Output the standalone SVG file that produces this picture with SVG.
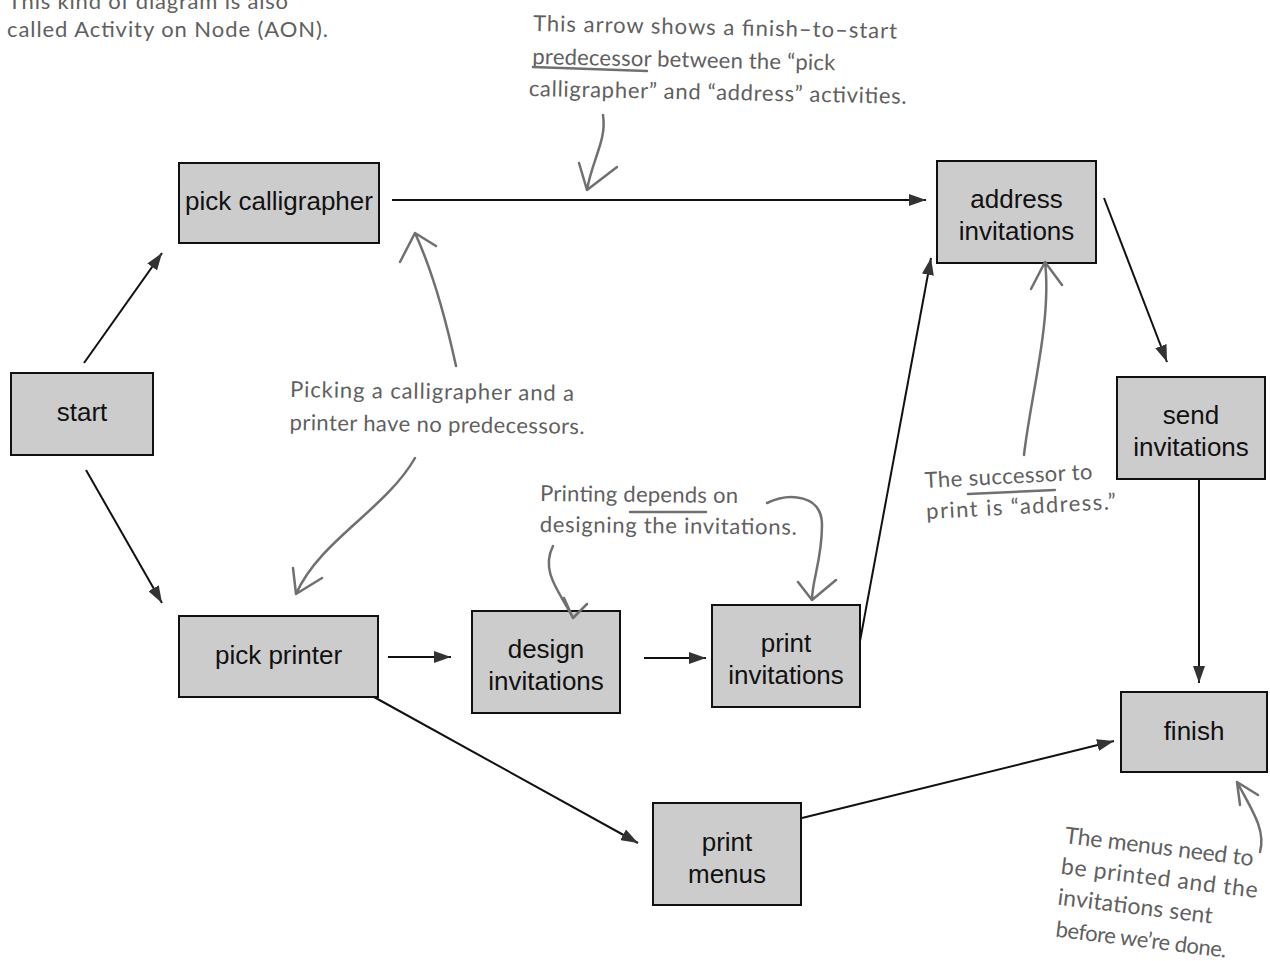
<svg xmlns="http://www.w3.org/2000/svg" width="1270" height="961" viewBox="0 0 1270 961">
<defs>
<style>
.box{fill:#cccccc;stroke:#111;stroke-width:2}
.lbl{font-family:"Liberation Sans",Arial,sans-serif;font-size:26px;fill:#111;text-anchor:middle}
.con{stroke:#111;stroke-width:2;fill:none;marker-end:url(#ah)}
.note{font-family:Lato,"Open Sans",sans-serif;font-size:22px;fill:#606060}
.big{font-size:23px}
.hand{stroke:#707070;stroke-width:2.5;fill:none;stroke-linecap:round;stroke-linejoin:round}
</style>
<marker id="ah" viewBox="0 0 17 12" refX="17" refY="6" markerWidth="17" markerHeight="12" markerUnits="userSpaceOnUse" orient="auto">
<path d="M0,0 L17,6 L0,12 Z" fill="#333"/>
</marker>
</defs>
<rect width="1270" height="961" fill="#fff"/>

<g id="connectors">
<line class="con" x1="84" y1="363" x2="162" y2="253"/>
<line class="con" x1="86" y1="470" x2="162" y2="603"/>
<line class="con" x1="392" y1="200" x2="926" y2="200"/>
<line class="con" x1="388" y1="657" x2="451" y2="657"/>
<line class="con" x1="644" y1="658" x2="706" y2="658"/>
<line class="con" x1="860" y1="641" x2="931" y2="258"/>
<line class="con" x1="1104" y1="198" x2="1167" y2="362"/>
<line class="con" x1="1199" y1="480" x2="1199" y2="683"/>
<line class="con" x1="374" y1="697" x2="638" y2="843"/>
<line class="con" x1="802" y1="818" x2="1114" y2="741"/>
</g>

<g id="start"><rect class="box" x="11" y="373" width="142" height="82"/><text class="lbl" x="82" y="421">start</text></g>
<g id="pick-calligrapher"><rect class="box" x="179" y="163" width="200" height="80"/><text class="lbl" x="279" y="210">pick calligrapher</text></g>
<g id="address-invitations"><rect class="box" x="937" y="161" width="159" height="102"/><text class="lbl" x="1016.5" y="208">address</text><text class="lbl" x="1016.5" y="240">invitations</text></g>
<g id="send-invitations"><rect class="box" x="1117" y="377" width="148" height="102"/><text class="lbl" x="1191" y="424">send</text><text class="lbl" x="1191" y="456">invitations</text></g>
<g id="pick-printer"><rect class="box" x="179" y="616" width="199" height="81"/><text class="lbl" x="278.5" y="664">pick printer</text></g>
<g id="design-invitations"><rect class="box" x="472" y="611" width="148" height="102"/><text class="lbl" x="546" y="658">design</text><text class="lbl" x="546" y="690">invitations</text></g>
<g id="print-invitations"><rect class="box" x="712" y="605" width="148" height="102"/><text class="lbl" x="786" y="652">print</text><text class="lbl" x="786" y="684">invitations</text></g>
<g id="finish"><rect class="box" x="1121" y="692" width="146" height="80"/><text class="lbl" x="1194" y="740">finish</text></g>
<g id="print-menus"><rect class="box" x="653" y="803" width="148" height="102"/><text class="lbl" x="727" y="851">print</text><text class="lbl" x="727" y="883">menus</text></g>

<g id="annotations">
<text class="note" x="8" y="9" textLength="280">This kind of diagram is also</text>
<text class="note" x="7" y="37" textLength="321">called Activity on Node (AON).</text>

<g transform="rotate(1.2 533 31)">
<text class="note" x="533" y="31" textLength="364">This arrow shows a finish–to–start</text>
<text class="note" x="533" y="64" textLength="303">predecessor between the “pick</text>
<text class="note" x="530" y="96" textLength="378">calligrapher” and “address” activities.</text>
</g>
<path class="hand" d="M533,67 L647,71"/>
<path class="hand" d="M603,115 C607,140 592,160 587,190 M579,163 L587,190 L617,167"/>

<g transform="rotate(0.8 290 397)">
<text class="note" x="290" y="397" textLength="284">Picking a calligrapher and a</text>
<text class="note" x="290" y="430" textLength="295">printer have no predecessors.</text>
</g>
<path class="hand" d="M456,366 C446,320 432,270 415,233 M400,262 L415,233 L436,246"/>
<path class="hand" d="M415,458 C385,510 320,540 296,594 M293,568 L296,594 L322,578"/>

<g transform="rotate(0.6 540 501)">
<text class="note" x="540" y="501" textLength="198">Printing depends on</text>
<text class="note" x="540" y="532" textLength="257">designing the invitations.</text>
</g>
<path class="hand" d="M630,512 L706,512"/>
<path class="hand" d="M553,546 C540,572 560,592 573,618 M564,598 L573,618 L587,604"/>
<path class="hand" d="M767,503 C790,492 822,495 822,525 C822,560 812,580 812,600 M798,582 L812,600 L836,580"/>

<g transform="rotate(-3 925 488)">
<text class="note" x="925" y="488" textLength="168">The successor to</text>
<text class="note" x="925" y="519" textLength="190">print is “address.”</text>
</g>
<path class="hand" d="M968,494 L1055,490"/>
<path class="hand" d="M1024,455 C1030,400 1052,320 1045,262 M1031,289 L1045,262 L1062,285"/>

<g transform="rotate(7 1064 843)">
<text class="note big" x="1064" y="843" textLength="190">The menus need to</text>
<text class="note big" x="1064" y="874" textLength="198">be printed and the</text>
<text class="note big" x="1064.5" y="905" textLength="156">invitations sent</text>
<text class="note" x="1066.5" y="937" textLength="172">before we’re done.</text>
</g>
<path class="hand" d="M1260,852 C1266,830 1252,810 1237,782 M1240,805 L1237,782 L1258,795"/>
</g>
</svg>
